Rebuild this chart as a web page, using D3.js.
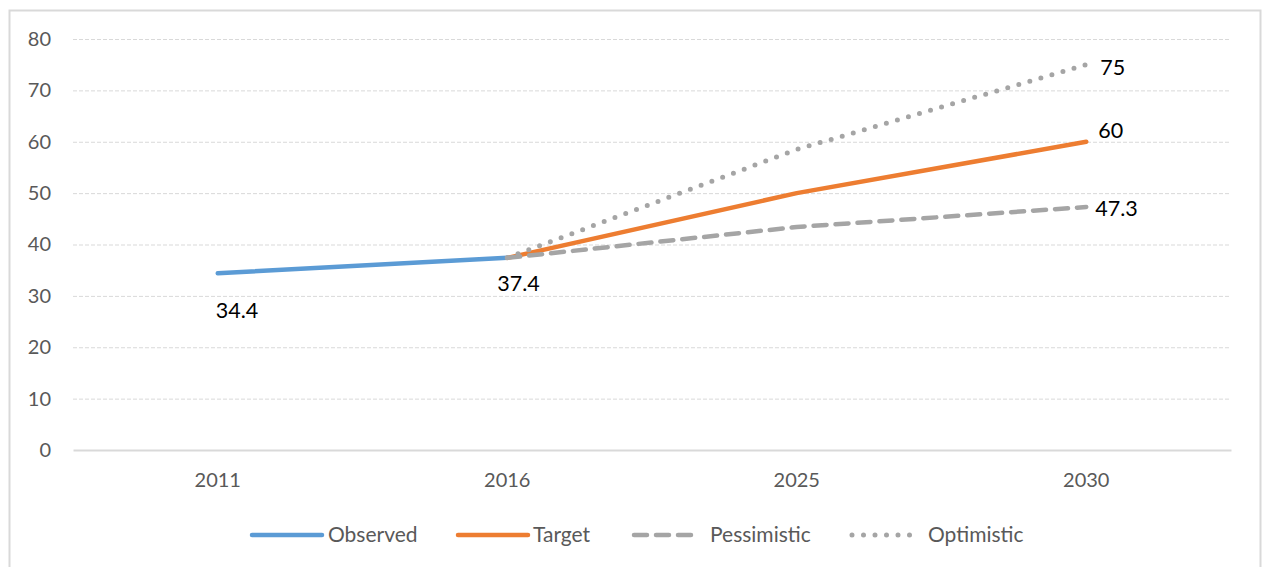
<!DOCTYPE html>
<html>
<head>
<meta charset="utf-8">
<script src="https://cdn.jsdelivr.net/npm/d3@7"></script>
<style>
  body { margin: 0; background: #fff; }
  svg text { font-family: "Lato", "Open Sans", sans-serif; }
</style>
</head>
<body>
<div class="graphContainer"></div>
<script>
var years       = ["2011", "2016", "2025", "2030"];
var observed    = [34.4, 37.4, null, null];
var target      = [null, 37.4, 50, 60];
var pessimistic = [null, 37.4, 43.4, 47.3];
var optimistic  = [null, 37.4, 58.5, 75];
var yTicks      = [0, 10, 20, 30, 40, 50, 60, 70, 80];

var w = 1263,
    h = 567;

var svg = d3.select(".graphContainer")
  .append("svg")
  .attr("width", w)
  .attr("height", h);

// chart frame
svg.append("rect")
  .attr("x", 9.5).attr("y", 10.5)
  .attr("width", 1251).attr("height", 570)
  .attr("fill", "none")
  .attr("stroke", "#d9d9d9")
  .attr("stroke-width", 2);

var x = d3.scaleBand()
  .domain(years)
  .range([73, 1231]);

var y = d3.scaleLinear()
  .domain([0, 80])
  .range([450, 39]);

// gridlines
svg.append("g")
  .selectAll("line")
  .data(yTicks.filter(function (d) { return d > 0; }))
  .enter()
    .append("line")
      .attr("x1", 73).attr("x2", 1231)
      .attr("y1", function (d) { return y(d) + 0.5; })
      .attr("y2", function (d) { return y(d) + 0.5; })
      .attr("stroke", "#d9d9d9")
      .attr("stroke-width", 1)
      .attr("stroke-dasharray", "4,2");

// left axis labels only
var axisLeft = d3.axisLeft(y).tickValues(yTicks).tickSize(0).tickPadding(0);
var gl = svg.append("g")
  .attr("transform", "translate(51,0)")
  .call(axisLeft);
gl.select(".domain").remove();
gl.selectAll("text")
  .attr("fill", "#595959")
  .style("font-size", "20px");

// bottom axis
var axisBottom = d3.axisBottom(x).tickSize(0).tickPadding(23);
var gb = svg.append("g")
  .attr("transform", "translate(0,450)")
  .call(axisBottom);
gb.select(".domain")
  .attr("stroke", "#d9d9d9")
  .attr("stroke-width", 2);
gb.selectAll("text")
  .attr("fill", "#595959")
  .style("font-size", "20px");

var series = [
  { name: "Observed",    values: observed,    color: "#5b9bd5", dash: null },
  { name: "Target",      values: target,      color: "#ed7d31", dash: null },
  { name: "Pessimistic", values: pessimistic, color: "#a5a5a5", dash: "13,9" },
  { name: "Optimistic",  values: optimistic,  color: "#a5a5a5", dash: "0,11.5" }
];

var line = d3.line()
  .defined(function (d) { return d.v != null; })
  .x(function (d) { return x(d.k) + x.bandwidth() / 2; })
  .y(function (d) { return y(d.v); });

series.forEach(function (s) {
  var pts = years.map(function (k, i) { return { k: k, v: s.values[i] }; });
  svg.append("path")
    .datum(pts)
    .attr("d", line)
    .attr("fill", "none")
    .attr("stroke", s.color)
    .attr("stroke-width", s.name === "Optimistic" ? 5 : 4.5)
    .attr("stroke-linecap", "round")
    .attr("stroke-linejoin", "round")
    .attr("stroke-dasharray", s.dash);
});

// data labels
var labels = [
  { k: "2011", v: observed[0],    dx: -2,  dy: 45, text: "34.4" },
  { k: "2016", v: observed[1],    dx: -10, dy: 33, text: "37.4" },
  { k: "2030", v: optimistic[3],  dx: 14,  dy: 10, text: "75" },
  { k: "2030", v: target[3],      dx: 12,  dy: -4, text: "60" },
  { k: "2030", v: pessimistic[3], dx: 9,   dy: 9,  text: "47.3" }
];
svg.append("g")
  .selectAll("text")
  .data(labels)
  .enter()
    .append("text")
      .attr("x", function (d) { return x(d.k) + x.bandwidth() / 2 + d.dx; })
      .attr("y", function (d) { return y(d.v) + d.dy; })
      .attr("fill", "#000")
      .style("font-size", "21.5px")
      .text(function (d) { return d.text; });

// legend
var legendX = [252, 458, 634, 852];
var legendTextX = [328, 533, 710, 928];
var lg = svg.append("g");
series.forEach(function (s, i) {
  lg.append("line")
    .attr("x1", legendX[i]).attr("x2", legendX[i] + (s.dash ? 66 : 70))
    .attr("y1", 535).attr("y2", 535)
    .attr("stroke", s.color)
    .attr("stroke-width", s.name === "Optimistic" ? 5 : 4.5)
    .attr("stroke-linecap", "round")
    .attr("stroke-dasharray", s.dash);
  lg.append("text")
    .attr("x", legendTextX[i])
    .attr("y", 535)
    .attr("dy", "0.35em")
    .attr("fill", "#595959")
    .style("font-size", "21px")
    .text(s.name);
});
</script>
</body>
</html>
